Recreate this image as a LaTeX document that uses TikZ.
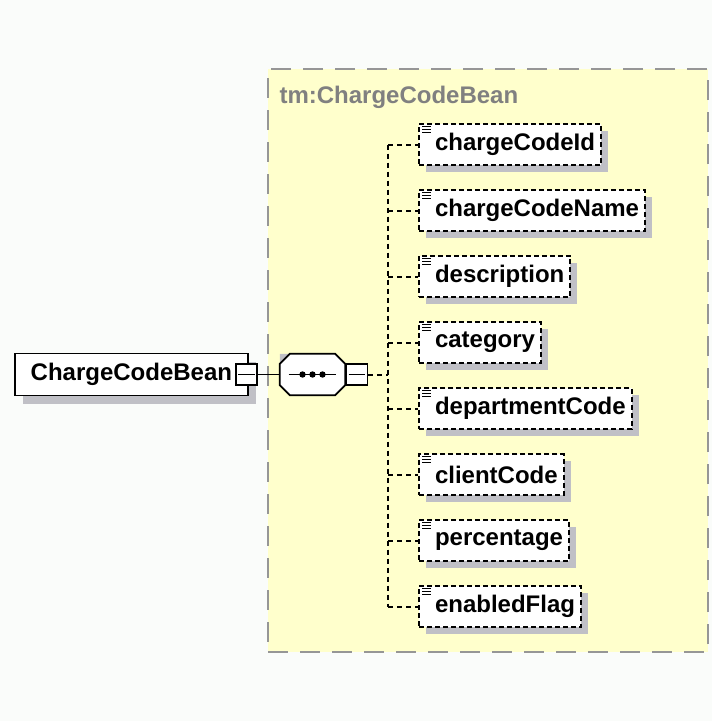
\documentclass[tikz,border=0pt]{standalone}
\usepackage{fontspec}
\setmainfont{Liberation Sans}
\usetikzlibrary{shadows}

\definecolor{pagebg}{RGB}{250,252,250}
\definecolor{groupfill}{RGB}{255,255,204}
\definecolor{groupline}{RGB}{150,150,150}
\definecolor{shadowgray}{RGB}{192,192,198}
\definecolor{labelgray}{RGB}{128,128,128}

\begin{document}
\begin{tikzpicture}[
    x=1pt, y=-1pt,
    every node/.style={font=\fontsize{24}{28}\selectfont\bfseries},
    hardshadow/.style={general shadow={fill=shadowgray, shadow xshift=7pt, shadow yshift=-7pt}},
    groupbox/.style={draw=groupline, fill=groupfill, line width=2.2pt, dash pattern=on 20pt off 12pt, minimum width=440pt, minimum height=583pt, anchor=north west},
    element/.style={draw, fill=white, hardshadow, line width=2pt, dash pattern=on 5pt off 3pt, anchor=west, minimum height=41pt, inner xsep=6pt, inner ysep=0pt, execute at begin node=\hspace*{10pt}},
    rootbox/.style={draw, fill=white, line width=1.8pt, anchor=west, minimum width=233pt, minimum height=42pt, general shadow={fill=shadowgray, shadow xshift=8pt, shadow yshift=-8pt}},
    minusbox/.style={draw, fill=white, line width=1.8pt, minimum size=21pt, inner sep=0pt},
    seqbox/.style={minimum width=65pt, minimum height=41pt, inner sep=0pt},
    link/.style={line width=2pt, dash pattern=on 5pt off 4pt},
]

\useasboundingbox[fill=pagebg] (0,0) rectangle (712,721);

% Complex type
\node[groupbox] (group) at (267,68) {};
\node[text=labelgray, anchor=west] (typename) at (276,97) {tm:ChargeCodeBean};

% Root element
\node[rootbox] (root) at (14,374.5) {ChargeCodeBean};
\node[minusbox] (m1) at (246.5,374.5) {};
\draw[line width=1.8pt] ([xshift=3pt]m1.west) -- ([xshift=-3pt]m1.east);

% Sequence
\node[seqbox] (seq) at (312.5,374.5) {};
\fill[shadowgray, shift={(8,8)}]
    (seq.west) |- ([xshift=10pt]seq.north west) -- ([xshift=-10pt]seq.north east)
    -- ([yshift=-10pt]seq.north east) -- ([yshift=10pt]seq.south east)
    -- ([xshift=-10pt]seq.south east) -- ([xshift=10pt]seq.south west)
    -- ([yshift=10pt]seq.south west) -- cycle;
\draw[fill=white, line width=1.8pt]
    ([yshift=-10pt]seq.north west) -- ([xshift=10pt]seq.north west) -- ([xshift=-10pt]seq.north east)
    -- ([yshift=-10pt]seq.north east) -- ([yshift=10pt]seq.south east)
    -- ([xshift=-10pt]seq.south east) -- ([xshift=10pt]seq.south west)
    -- ([yshift=10pt]seq.south west) -- cycle;
\draw[line width=1.8pt] ([xshift=-24pt]seq.center) -- ([xshift=23pt]seq.center);
\foreach \dx in {-10,0,10}
    \fill ([xshift=\dx pt]seq.center) circle (3.2);
\node[minusbox] (m2) at (357,374.5) {};
\draw[line width=1.8pt] ([xshift=3pt]m2.west) -- ([xshift=-3pt]m2.east);

\draw[line width=1.8pt] (m1.east) -- (seq.west);
\coordinate (spine) at (388,374.5);
\draw[link] (m2.east) -- (spine);

% Child elements
\node[element] (cid)   at (418,144.5) {chargeCodeId};
\node[element] (cname) at (418,210.5) {chargeCodeName};
\node[element] (desc)  at (418,276.5) {description};
\node[element] (cat)   at (418,342.5) {category};
\node[element] (dept)  at (418,408.5) {departmentCode};
\node[element] (client) at (418,474.5) {clientCode};
\node[element] (pct)   at (418,540.5) {percentage};
\node[element] (flag)  at (418,606.5) {enabledFlag};

% Connectors
\draw[link] (spine |- cid.west) -- (spine |- flag.west);
\foreach \e in {cid,cname,desc,cat,dept,client,pct,flag} {
    \draw[link] (spine |- \e.west) -- (\e.west);
    \foreach \dy in {3.5,6.5,9.5}
        \draw[line width=0.8pt] ([xshift=4pt,yshift=-\dy pt]\e.north west) -- ++(9,0);
}

\end{tikzpicture}
\end{document}
